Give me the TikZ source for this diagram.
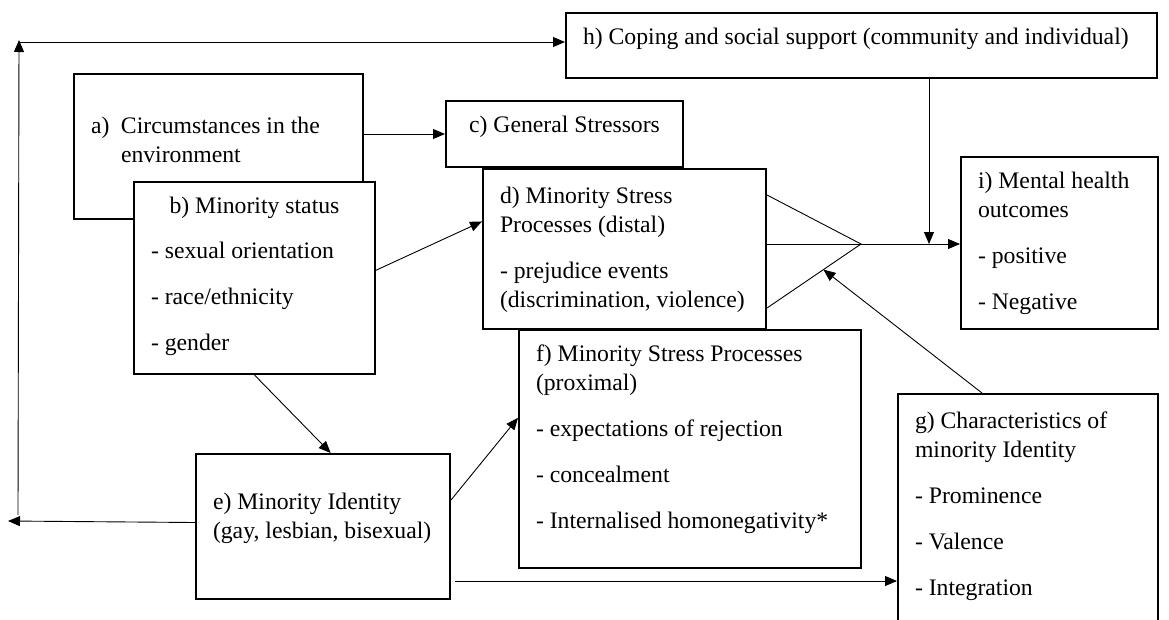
\documentclass[tikz,border=0pt]{standalone}
\usepackage{fontspec}
\setmainfont{Liberation Serif}
\usetikzlibrary{arrows.meta,positioning,calc}
\newcommand{\cell}[4][0pt]{\parbox[c][#3][t]{#2}{\raggedright\vspace*{#1}\strut#4}}

\begin{document}
\begin{tikzpicture}[x=1pt,y=-1pt,
  box/.style={draw,line width=2pt,fill=white,anchor=north west,inner xsep=17pt,inner ysep=11pt,
  font=\fontsize{23.7}{29}\selectfont},
  arr/.style={-{Triangle[length=12pt,width=10pt]},line width=0.9pt},ln/.style={line width=0.9pt}]
  \useasboundingbox (0,0) rectangle (1169,619);
  \clip (0,0) rectangle (1169,619);
  % boxes
  \node[box] (h) at (565,12) {\cell{557pt}{43pt}{h) Coping and social support (community and individual)}};
  \node[box] (a) at (73,73) {\cell[28pt]{255pt}{123pt}{\makebox[30pt][l]{a)}Circumstances in the\\\hspace*{30pt}environment}};
  \node[box] (b) at (133,181) {\cell{207pt}{170pt}{\makebox[\linewidth]{b) Minority status}\\[16pt]
    - sexual orientation\\[17pt]- race/ethnicity\\[17pt]- gender}};
  \node[box] (c) at (445,100) {\cell{203pt}{44pt}{\makebox[\linewidth]{c) General Stressors}}};
  \node[box] (d) at (482,168) {\cell[3pt]{249pt}{138pt}{d) Minority Stress\\Processes (distal)\\[17pt]
    - prejudice events\\(discrimination, violence)}};
  \node[box] (f) at (518,329) {\cell{308pt}{216pt}{f) Minority Stress Processes\\(proximal)\\[17pt]
    - expectations of rejection\\[17pt]- concealment\\[17pt]- Internalised homonegativity*}};
  \node[box] (e) at (195,453) {\cell[24pt]{220pt}{123pt}{e) Minority Identity\\(gay, lesbian, bisexual)}};
  \node[box] (i) at (960,156) {\cell{163pt}{150pt}{i) Mental health\\outcomes\\[17pt]- positive\\[17pt]- Negative}};
  \node[box] (g) at (897,393) {\cell[3pt]{226pt}{238pt}{g) Characteristics of\\minority Identity\\[17pt]
    - Prominence\\[17pt]- Valence\\[17pt]- Integration}};
  % joins
  \coordinate (ap) at (861,244);
  \coordinate (d1) at ($(d.north east)+(0,27)$);
  \coordinate (d2) at (d.east |- ap);
  \coordinate (d3) at ($(d.north east)+(0,140)$);
  \coordinate (hj) at (929,244);
  \coordinate (eg) at ($(e.south east)+(4,-19)$);
  \coordinate (el) at (8,521);
  \coordinate (lo) at (18,515);
  \coordinate (up) at (19,40);
  % connectors
  \draw[ln] (d1) -- (ap) -- (d3);
  \draw[ln] (d2) -- (ap);
  \draw[arr] (ap) -- (ap -| i.west);
  \draw[arr] (hj |- h.south) -- (hj);
  \draw[arr] (c.west -| a.east) -- (c.west);
  \draw[arr] ($(b.north east)!0.46!(b.south east)$) -- ($(d.north west)!0.33!(d.south west)$);
  \draw[arr] (b.south) -- ($(e.north west)!0.53!(e.north east)$);
  \draw[arr] ($(e.north east)!0.32!(e.south east)$) -- ($(f.north west)!0.37!(f.south west)$);
  \draw[arr] (eg) -- (eg -| g.west);
  \draw[arr] ($(g.north west)+(85,0)$) -- ($(d3)!0.6!(ap)$);
  \draw[arr] ($(e.west)+(0,-4)$) -- (el);
  \draw[arr] (lo) -- (up);
  \draw[arr] ($(up)+(1,2)$) -- ($(up -| h.west)+(0,2)$);
\end{tikzpicture}
\end{document}
